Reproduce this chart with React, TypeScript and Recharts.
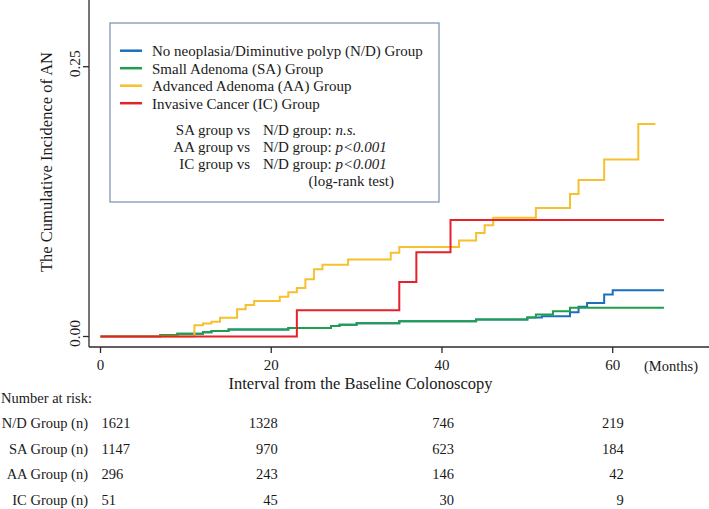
import { LineChart, Line, XAxis, YAxis } from "recharts";

const FONT = "'Liberation Serif', 'Times New Roman', serif";
const INK = "#1a1a1a";
const AXIS_COLOR = "#2b2b2b";

const X_TICKS = [0, 20, 40, 60];
const Y_TICKS = [0, 0.25];

const SERIES_NAMES = [
  "No neoplasia/Diminutive polyp (N/D) Group",
  "Small Adenoma (SA) Group",
  "Advanced Adenoma (AA) Group",
  "Invasive Cancer (IC) Group",
];
const COLORS = ["#1b6fbe", "#1f9e4c", "#f6c02e", "#e5212a"];

// cumulative incidence, step curves (months, value)
const ND_MONTHS = [0, 7, 9, 12, 13, 15, 22, 27, 28, 30, 35, 44, 50, 51.7, 55, 56, 57, 59, 60, 66];
const ND_INC = [0, 0.0015, 0.0025, 0.004, 0.005, 0.0065, 0.0078, 0.0098, 0.011, 0.0123, 0.0141, 0.0158, 0.0176, 0.0188, 0.0225, 0.0275, 0.031, 0.0389, 0.0429, 0.0429];

const SA_MONTHS = [0, 7, 9, 12, 13, 15, 22, 27, 28, 30, 35, 44, 50, 51, 53, 55, 66];
const SA_INC = [0, 0.0015, 0.0025, 0.004, 0.005, 0.0065, 0.0078, 0.0098, 0.011, 0.0123, 0.0141, 0.0158, 0.0176, 0.0204, 0.0235, 0.0266, 0.0266];

const AA_MONTHS = [0, 11, 12, 13, 14, 16, 17, 18, 21, 22, 23, 24, 25, 26, 29, 34, 35, 42, 44, 45, 46, 51, 55, 56, 59, 63, 65];
const AA_INC = [0, 0.0104, 0.012, 0.0137, 0.0174, 0.0252, 0.0292, 0.0329, 0.0369, 0.041, 0.045, 0.053, 0.0623, 0.0665, 0.0713, 0.0776, 0.083, 0.089, 0.096, 0.103, 0.11, 0.119, 0.132, 0.145, 0.164, 0.197, 0.197];

const IC_MONTHS = [0, 23, 35, 37, 41, 66];
const IC_INC = [0, 0.0244, 0.0506, 0.078, 0.108, 0.108];

// number at risk at 0, 20, 40, 60 months
const RISK_GROUPS = ["N/D Group (n)", "SA Group (n)", "AA Group (n)", "IC Group (n)"];
const RISK_ND = [1621, 1328, 746, 219];
const RISK_SA = [1147, 970, 623, 184];
const RISK_AA = [296, 243, 146, 42];
const RISK_IC = [51, 45, 30, 9];
const RISK_ROWS = [RISK_ND, RISK_SA, RISK_AA, RISK_IC];

const TESTS = [
  { left: "SA group vs", right: "N/D group: ", p: "n.s." },
  { left: "AA group vs", right: "N/D group: ", p: "p<0.001" },
  { left: "IC group vs", right: "N/D group: ", p: "p<0.001" },
];

const toPoints = (ms: number[], vs: number[]) => ms.map((m, i) => ({ m, v: vs[i] }));

const SERIES = [
  toPoints(ND_MONTHS, ND_INC),
  toPoints(SA_MONTHS, SA_INC),
  toPoints(AA_MONTHS, AA_INC),
  toPoints(IC_MONTHS, IC_INC),
];

const RISK_DX = [1, 6.5, 12, 11];

function MonthTick(props: any) {
  const { x, y, payload } = props;
  const col = X_TICKS.indexOf(payload.value);
  const first = col === 0;
  return (
    <g fontFamily={FONT} fill={INK}>
      <text x={x} y={y + 15} textAnchor="middle" fontSize={15}>
        {payload.value}
      </text>
      {RISK_ROWS.map((row, r) => (
        <text
          key={r}
          x={x + RISK_DX[col]}
          y={y + 73 + r * 25.7}
          textAnchor={first ? "start" : "end"}
          fontSize={14.5}
        >
          {row[col]}
        </text>
      ))}
    </g>
  );
}

function IncTick(props: any) {
  const { x, y, payload } = props;
  return (
    <text
      transform={`translate(${x - 1},${y - 3}) rotate(-90)`}
      textAnchor="middle"
      fontFamily={FONT}
      fontSize={15.5}
      fill={INK}
    >
      {payload.value.toFixed(2)}
    </text>
  );
}

export default function App() {
  return (
    <div style={{ position: "relative", width: 709, height: 509, background: "#fff" }}>
      <style>{"body{margin:0}"}</style>
      <LineChart width={709} height={509} margin={{ top: 0, right: 0, bottom: 0, left: 0 }}>
        <XAxis
          dataKey="m"
          type="number"
          domain={[-1.347, 71.28]}
          allowDataOverflow
          ticks={X_TICKS}
          interval={0}
          tickSize={6}
          height={162}
          axisLine={{ stroke: AXIS_COLOR, strokeWidth: 1.3 }}
          tickLine={{ stroke: AXIS_COLOR, strokeWidth: 1.3 }}
          tick={<MonthTick />}
        />
        <YAxis
          type="number"
          domain={[-0.00973, 0.3118]}
          allowDataOverflow
          ticks={Y_TICKS}
          interval={0}
          tickSize={6}
          width={89}
          axisLine={{ stroke: AXIS_COLOR, strokeWidth: 1.3 }}
          tickLine={{ stroke: AXIS_COLOR, strokeWidth: 1.3 }}
          tick={<IncTick />}
        />
        {SERIES.map((pts, i) => (
          <Line
            key={i}
            data={pts}
            dataKey="v"
            type="stepAfter"
            stroke={COLORS[i]}
            strokeWidth={2}
            dot={false}
            activeDot={false}
            isAnimationActive={false}
          />
        ))}
      </LineChart>

      <svg
        width={709}
        height={509}
        style={{ position: "absolute", left: 0, top: 0, pointerEvents: "none" }}
        fontFamily={FONT}
        fill={INK}
      >
        <text
          transform="translate(52,162) rotate(-90)"
          textAnchor="middle"
          fontSize={16.5}
        >
          The Cumulative Incidence of AN
        </text>
        <text x={360.5} y={388.5} textAnchor="middle" fontSize={16.5}>
          Interval from the Baseline Colonoscopy
        </text>
        <text x={644} y={371} fontSize={14.5}>
          (Months)
        </text>

        <rect x={110} y={23} width={329} height={179} fill="none" stroke="#8197b4" strokeWidth={1.3} />
        {SERIES_NAMES.map((name, i) => (
          <g key={name}>
            <line x1={120} x2={142} y1={50.7 + i * 17.5} y2={50.7 + i * 17.5} stroke={COLORS[i]} strokeWidth={2.5} />
            <text x={152} y={56 + i * 17.5} fontSize={15}>
              {name}
            </text>
          </g>
        ))}
        {TESTS.map((t, i) => (
          <g key={i} fontSize={15}>
            <text x={250} y={135 + i * 17.2} textAnchor="end">
              {t.left}
            </text>
            <text x={263} y={135 + i * 17.2}>
              {t.right}
              <tspan fontStyle="italic">{t.p}</tspan>
            </text>
          </g>
        ))}
        <text x={394} y={186} textAnchor="end" fontSize={15}>
          (log-rank test)
        </text>

        <text x={1} y={403} fontSize={14.5}>
          Number at risk:
        </text>
        {RISK_GROUPS.map((g, r) => (
          <text key={g} x={88} y={428 + r * 25.7} textAnchor="end" fontSize={14.5}>
            {g}
          </text>
        ))}
      </svg>
    </div>
  );
}
